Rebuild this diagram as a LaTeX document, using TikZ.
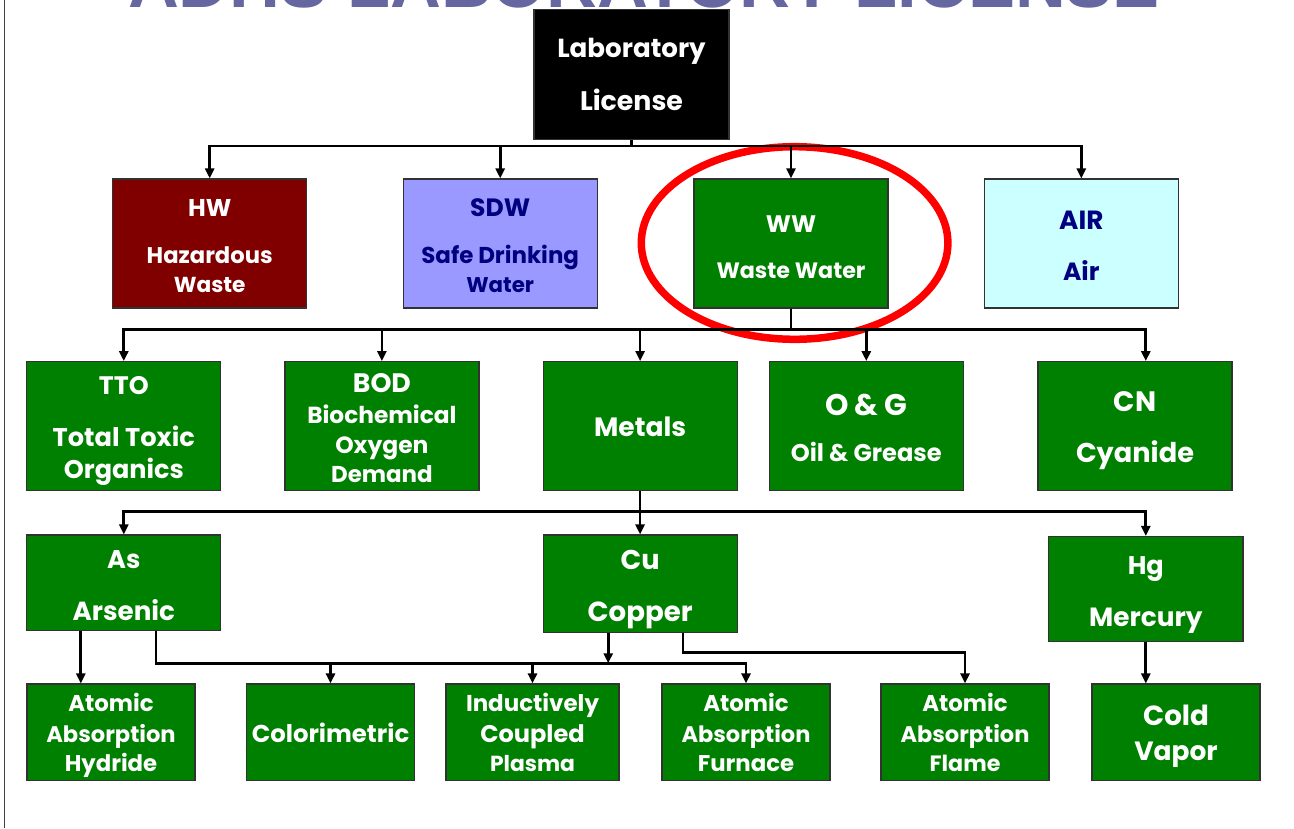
\documentclass[tikz,border=0pt]{standalone}
\usepackage{fontspec}
\setmainfont{Poppins}
\newfontfamily\titlefont{Liberation Sans}
\usetikzlibrary{arrows.meta,calc}
\definecolor{gr}{RGB}{0,128,0}
\definecolor{hwred}{RGB}{128,0,0}
\definecolor{sdwblue}{RGB}{153,153,255}
\definecolor{aircyan}{RGB}{204,255,255}
\definecolor{navy}{RGB}{0,0,128}
\definecolor{titlecol}{RGB}{102,102,160}
\definecolor{bordercol}{RGB}{50,50,50}
\newlength\fitlen
\newcommand\fitto[2]{%
  \settowidth\fitlen{\fontsize{10pt}{12pt}\selectfont #2}%
  \pgfmathsetmacro\fitsz{10*#1/\fitlen}%
  \fontsize{\fitsz pt}{\fitsz pt}\selectfont #2}
\newcommand\tline[5][white]{\node[tx,text=#1] (#2) at (#3) {\fitto{#4}{#5}};}
\begin{document}
\begin{tikzpicture}[x=1pt,y=-1pt,
  box/.style={draw=bordercol,line width=1.2pt,minimum width=194pt,minimum height=129pt,inner sep=0pt,fill=gr},
  lowbox/.style={box,minimum width=168pt,minimum height=96.3pt},
  tx/.style={anchor=base,inner sep=0pt,font=\bfseries},
  conn/.style={line width=2.7pt,black,line join=miter},
  arr/.style={conn,-{Triangle[length=10pt,width=9pt]}}]
\useasboundingbox (0,0) rectangle (1294,828);
\clip (0,0) rectangle (1294,828);
\fill[white] (0,0) rectangle (1294,828);
% title (cut off at the top, as in the reference)
\node[anchor=base,inner sep=0pt,text=titlecol,font=\titlefont\bfseries] (title) at (644,7) {\fitto{1032}{ADHS LABORATORY LICENSE}};
\draw[line width=1.8pt,black!75] (4.5,0) -- (4.5,828);
% boxes
\node[box,fill=black,minimum width=195pt,minimum height=130pt] (lab) at (631.5,74.3) {};
\node[box,fill=hwred] (hw) at (209.7,243.5) {};
\node[box,fill=sdwblue] (sdw) at (500.2,243.5) {};
\node[box] (ww) at (791,243.5) {};
\node[box,fill=aircyan] (air) at (1081.3,243.5) {};
\node[box] (tto) at (123.8,426.2) {};
\node[box] (bod) at (381.9,426.2) {};
\node[box] (met) at (640.1,426.2) {};
\node[box] (og) at (866.3,426.2) {};
\node[box] (cn) at (1135,426.2) {};
\node[box,minimum height=95.7pt] (as) at (123.8,582.9) {};
\node[box,minimum height=97.3pt] (cu) at (640.1,583.7) {};
\node[box,minimum height=105pt,minimum width=194.5pt] (hg) at (1145.8,589) {};
\node[lowbox] (aah) at (111,732.2) {};
\node[lowbox] (col) at (330.5,732.2) {};
\node[lowbox,minimum width=173pt] (icp) at (532.5,732.2) {};
\node[lowbox] (aaf) at (746,732.2) {};
\node[lowbox] (afl) at (965,732.2) {};
\node[lowbox] (cv) at (1176,732.2) {};
% texts
\tline{lab1}{631.5,57.3}{148.5}{Laboratory}
\tline{lab2}{631.5,110.7}{103}{License}
\tline{hw1}{209.7,216.7}{43.3}{HW}
\tline{hw2}{209.7,263}{126}{Hazardous}
\tline{hw3}{209.7,292}{71.7}{Waste}
\tline[navy]{sdw1}{500.2,216.7}{60}{SDW}
\tline[navy]{sdw2}{500.2,263}{157.7}{Safe Drinking}
\tline[navy]{sdw3}{500.2,292}{67.7}{Water}
\tline{ww1}{791,232}{50.2}{WW}
\tline{ww2}{791,278}{149}{Waste Water}
\tline[navy]{air1}{1081.3,229}{44.3}{AIR}
\tline[navy]{air2}{1081.3,280}{36.4}{Air}
\tline{tto1}{123.8,394}{49.8}{TTO}
\tline{tto2}{123.8,446.7}{142.2}{Total Toxic}
\tline{tto3}{123.8,478}{120}{Organics}
\tline{bod1}{381.9,392.7}{58}{BOD}
\tline{bod2}{381.9,423.3}{149.3}{Biochemical}
\tline{bod3}{381.9,453.3}{93.3}{Oxygen}
\tline{bod4}{381.9,482.7}{101.6}{Demand}
\tline{met1}{640.1,436.7}{92}{Metals}
\tline{og1}{866.3,415}{82.6}{O \& G}
\tline{og2}{866.3,461.7}{151}{Oil \& Grease}
\tline{cn1}{1135,411}{42.5}{CN}
\tline{cn2}{1135,462.7}{118}{Cyanide}
\tline{as1}{123.8,568.3}{33.2}{As}
\tline{as2}{123.8,620}{102.4}{Arsenic}
\tline{cu1}{640.1,569.3}{39}{Cu}
\tline{cu2}{640.1,621}{105}{Copper}
\tline{hg1}{1145.8,574}{36}{Hg}
\tline{hg2}{1145.8,626}{113.3}{Mercury}
\tline{aah1}{111,711.7}{85.4}{Atomic}
\tline{aah2}{111,742.7}{129.4}{Absorption}
\tline{aah3}{111,771.7}{92.5}{Hydride}
\tline{col1}{330.5,742.7}{157.5}{Colorimetric}
\tline{icp1}{532.5,711.7}{133}{Inductively}
\tline{icp2}{532.5,742.7}{104.5}{Coupled}
\tline{icp3}{532.5,771.7}{85}{Plasma}
\tline{aaf1}{746,711.7}{85.4}{Atomic}
\tline{aaf2}{746,742.7}{129}{Absorption}
\tline{aaf3}{746,771.7}{96.3}{Furnace}
\tline{afl1}{965,711.7}{85.4}{Atomic}
\tline{afl2}{965,742.7}{129}{Absorption}
\tline{afl3}{965,771.7}{70.9}{Flame}
\tline{cv1}{1176,725.7}{65.7}{Cold}
\tline{cv2}{1176,760}{83.3}{Vapor}
% highlight
\draw[red,line width=7.5pt] (794.6,243) ellipse [x radius=153.3pt,y radius=96.3pt];
% connectors
\coordinate (b1) at (631.5,146);
\coordinate (b2) at (791,329.5);
\coordinate (b3) at (640.1,511.5);
\coordinate (b4y) at (0,663.3);
\coordinate (b5y) at (0,652.3);
\draw[arr] (lab.south) -- (b1) -| (hw.north);
\draw[arr] (lab.south) -- (b1) -| (sdw.north);
\draw[arr] (lab.south) -- (b1) -| (ww.north);
\draw[arr] (lab.south) -- (b1) -| (air.north);
\draw[arr] (ww.south) -- (b2) -| (tto.north);
\draw[arr] (ww.south) -- (b2) -| (bod.north);
\draw[arr] (ww.south) -- (b2) -| (met.north);
\draw[arr] (ww.south) -- (b2) -| (og.north);
\draw[arr] (ww.south) -- (b2) -| (cn.north -| hg.north);
\draw[arr] (met.south) -- (b3) -| (as.north);
\draw[arr] (met.south) -- (cu.north);
\draw[arr] (met.south) -- (b3) -| (hg.north);
\draw[arr] ([xshift=-43pt]as.south) -- ([xshift=-43pt]as.south |- aah.north);
\draw[arr] ([xshift=32.1pt]as.south) |- (aaf.north |- b4y) -- (aaf.north);
\draw[arr] (col.north |- b4y) -- (col.north);
\draw[arr] (icp.north |- b4y) -- (icp.north);
\draw[arr] ([xshift=-31.9pt]cu.south) -- ([xshift=-31.9pt]cu.south |- b4y);
\draw[arr] ([xshift=42.9pt]cu.south) |- (afl.north |- b5y) -- (afl.north);
\draw[arr] (hg.south) -- (hg.south |- cv.north);
\end{tikzpicture}
\end{document}
